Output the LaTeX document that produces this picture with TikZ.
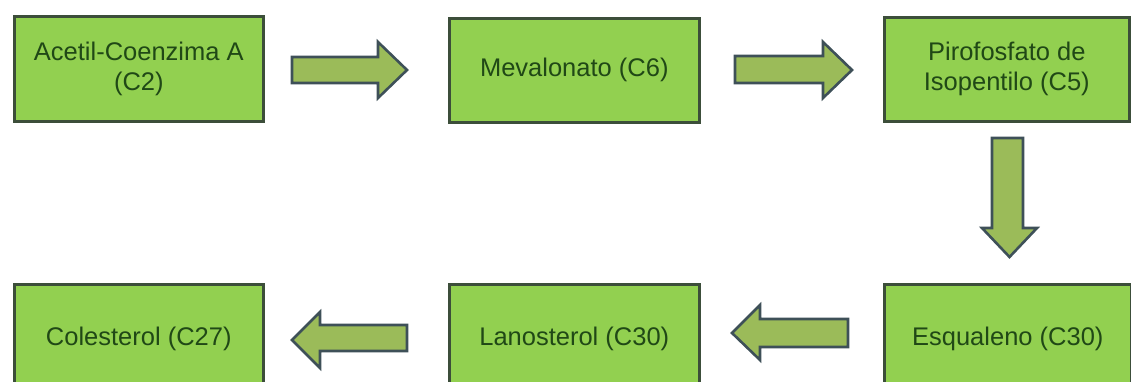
\documentclass[tikz,border=0pt]{standalone}
\usepackage{fontspec}
\setmainfont{Liberation Sans}
\begin{document}
\begin{tikzpicture}[x=1pt,y=-1pt,
  stepbox/.style={draw=boxline, fill=boxfill, line width=2.6pt, inner sep=0pt,
    anchor=north west, align=center, text=txt, font=\fontsize{25.5}{30}\selectfont},
  blockarrow/.style={draw=arrline, fill=arrfill, line width=2.6pt, line join=miter}]
\definecolor{boxfill}{RGB}{146,208,80}
\definecolor{boxline}{RGB}{60,78,58}
\definecolor{arrfill}{RGB}{155,187,89}
\definecolor{arrline}{RGB}{62,80,88}
\definecolor{txt}{RGB}{32,72,22}
\useasboundingbox (0,0) rectangle (1131,382);
\clip (0,0) rectangle (1131,382);
% boxes
\node[stepbox, minimum width=249pt, minimum height=105pt] (acetil) at (13,15) {Acetil-Coenzima A\\(C2)};
\node[stepbox, minimum width=250pt, minimum height=104pt] (meva) at (448,17) {Mevalonato (C6)};
\node[stepbox, minimum width=245pt, minimum height=104pt] (piro) at (883,16) {Pirofosfato de\\Isopentilo (C5)};
\node[stepbox, minimum width=247pt, minimum height=110pt] (esq) at (883,283) {Esqualeno (C30)};
\node[stepbox, minimum width=250pt, minimum height=110pt] (lano) at (448,283) {Lanosterol (C30)};
\node[stepbox, minimum width=249pt, minimum height=110pt] (cole) at (13,283) {Colesterol (C27)};
% block arrows
\draw[blockarrow] (292,57) -- (378,57) -- (378,42) -- (407,70) -- (378,98) -- (378,83) -- (292,83) -- cycle;
\draw[blockarrow] (735,56) -- (823,56) -- (823,42) -- (852,70) -- (823,98) -- (823,83) -- (735,83) -- cycle;
\draw[blockarrow] (992,138) -- (1023,138) -- (1023,228) -- (1037,228) -- (1009.5,257) -- (982,228) -- (992,228) -- cycle;
\draw[blockarrow] (848,319) -- (760,319) -- (760,305) -- (732,333) -- (760,360) -- (760,347) -- (848,347) -- cycle;
\draw[blockarrow] (407,325) -- (320,325) -- (320,312) -- (292,340) -- (320,368) -- (320,351) -- (407,351) -- cycle;
\end{tikzpicture}
\end{document}
